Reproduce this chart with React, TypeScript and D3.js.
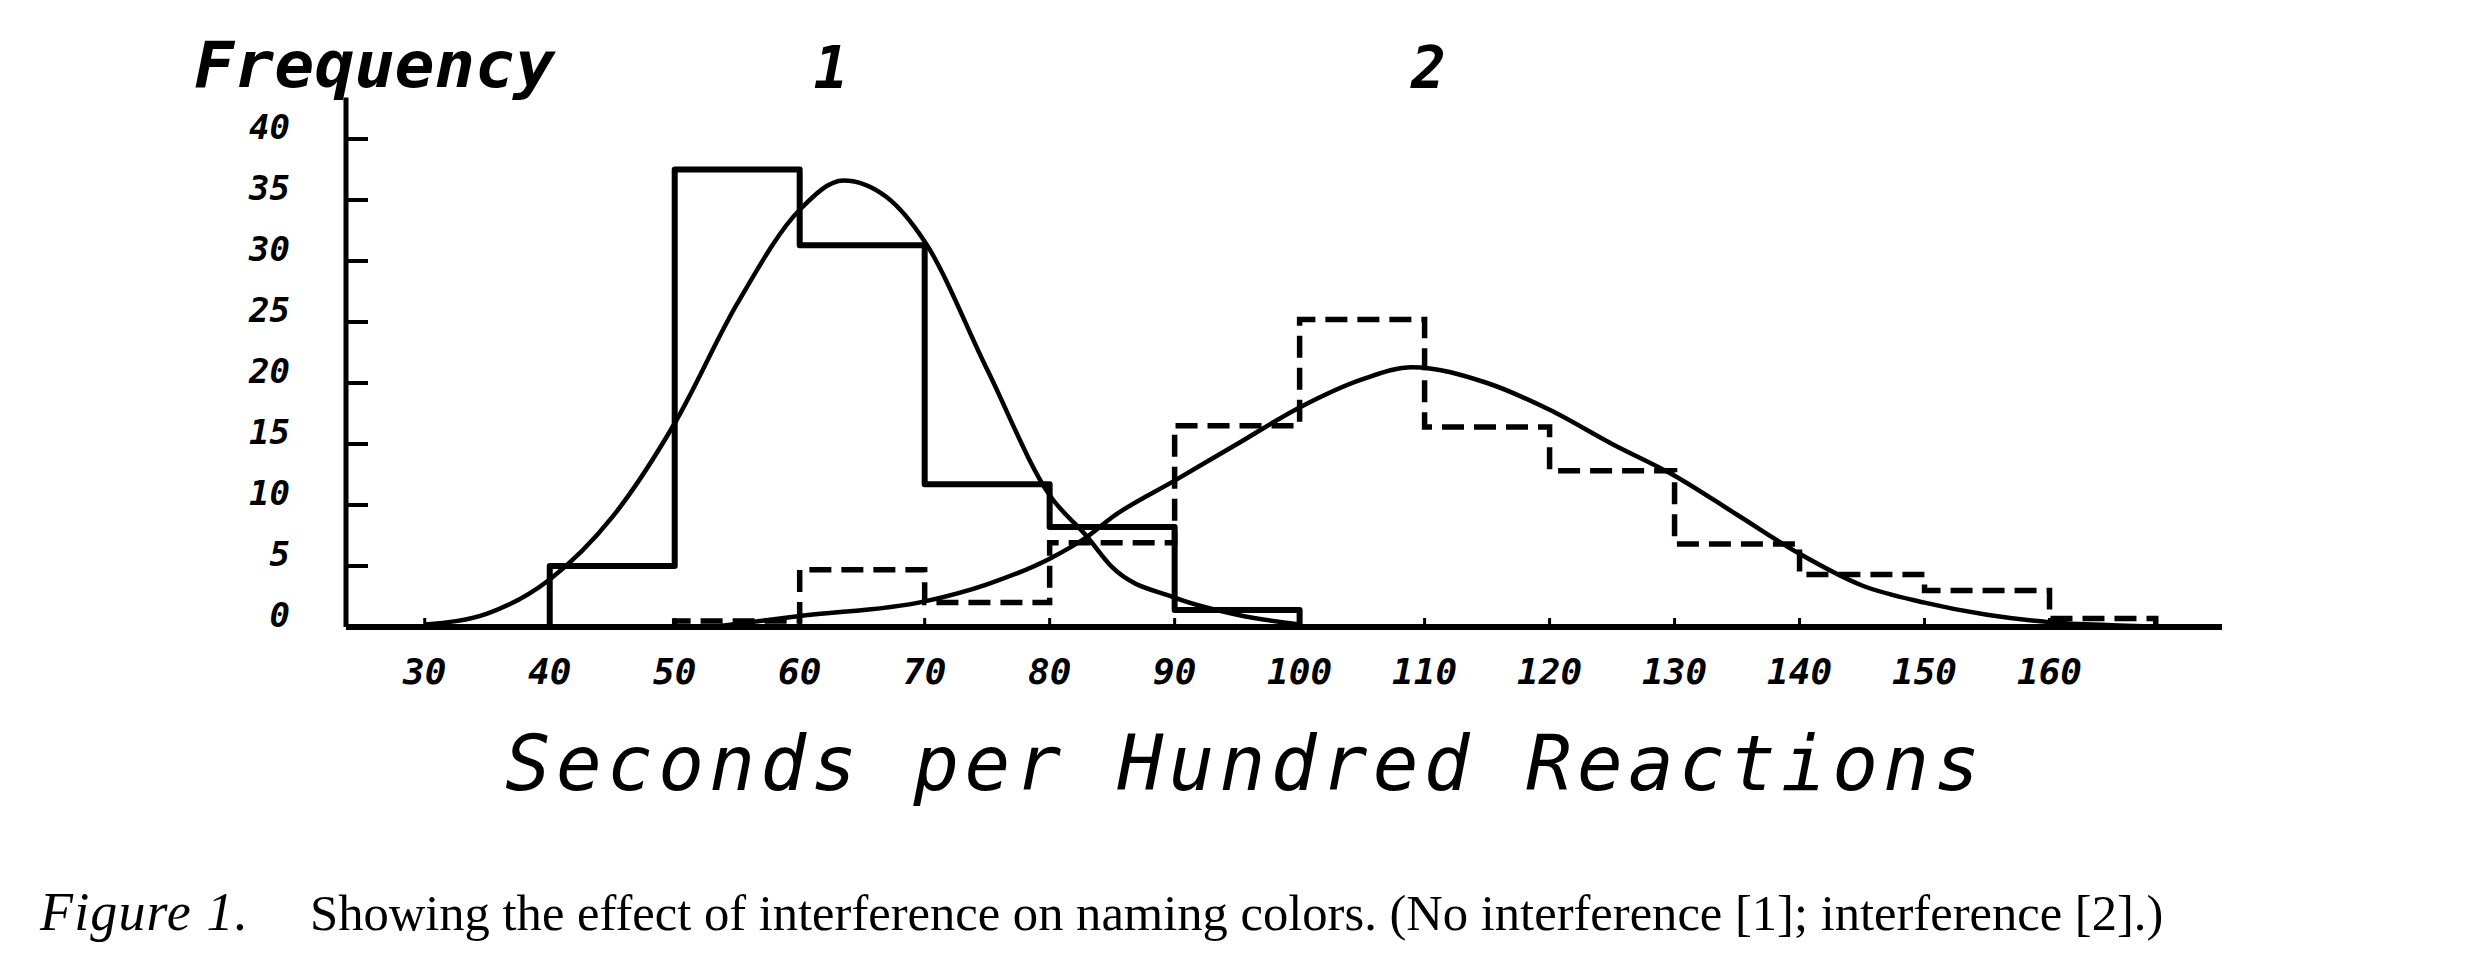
import React, { useMemo } from "react";
import * as d3 from "d3";

const WIDTH = 2488;
const HEIGHT = 964;

// axis ticks
const xTicks = [30, 40, 50, 60, 70, 80, 90, 100, 110, 120, 130, 140, 150, 160];
const yTicks = [0, 5, 10, 15, 20, 25, 30, 35, 40];

// [1] no interference -- solid histogram
const binEdges1 = [40, 50, 60, 70, 80, 90, 100];
const freq1 = [5, 37.5, 31.3, 11.7, 8.2, 1.4];

// [2] interference -- dashed histogram
const binEdges2 = [50, 60, 70, 80, 90, 100, 110, 120, 130, 140, 150, 160, 168.5];
const freq2 = [0.5, 4.7, 2.0, 6.9, 16.5, 25.2, 16.4, 12.8, 6.8, 4.3, 3.0, 0.7];

// fitted curves
const curve1X = [30, 35, 40, 45, 50, 55, 60, 63.5, 67, 70, 75, 80, 83, 85, 90, 95, 100];
const curve1Y = [0.2, 1.1, 3.9, 9, 16.7, 26.5, 34.2, 36.6, 35.2, 31.6, 21.1, 10.8, 7.4, 4.9, 2.4, 1.0, 0.2];

const curve2X = [53, 60, 70, 75, 80, 83, 85, 90, 95, 100, 105, 109, 115, 120, 125, 130, 135, 140, 145, 150, 155, 160, 165, 171];
const curve2Y = [0, 0.9, 2.1, 3.5, 5.6, 7.4, 9.0, 12.0, 15.0, 18.0, 20.3, 21.3, 20.0, 17.8, 15.0, 12.4, 9.2, 6.0, 3.4, 2.0, 1.0, 0.4, 0.15, 0];

const seriesLabels = ["1", "2"];
const seriesLabelX = [62.5, 110.3];

const X_DOMAIN: [number, number] = [23.7, 173.8];
const Y_TOP = 43.4;

const HAND = "'DejaVu Sans Mono', monospace";
const SERIF = "'Liberation Serif', 'Times New Roman', serif";

const stepPoints = (edges: number[], freq: number[]) => {
  const pts: [number, number][] = [[edges[0], 0]];
  freq.forEach((f, i) => {
    pts.push([edges[i], f], [edges[i + 1], f]);
  });
  pts.push([edges[edges.length - 1], 0]);
  return pts;
};

export default function App() {
  const xScale = useMemo(
    () => d3.scaleLinear().domain(X_DOMAIN).range([346, 2222]),
    []
  );
  const yScale = useMemo(
    () => d3.scaleLinear().domain([0, 40]).range([627, 139]),
    []
  );

  const stepLine = d3
    .line<[number, number]>()
    .x((d) => xScale(d[0]))
    .y((d) => yScale(d[1]));

  const smoothLine = d3
    .line<[number, number]>()
    .x((d) => xScale(d[0]))
    .y((d) => yScale(d[1]))
    .curve(d3.curveMonotoneX);

  const hist1 = stepLine(stepPoints(binEdges1, freq1)) || "";
  const hist2 = stepLine(stepPoints(binEdges2, freq2)) || "";
  const fit1 = smoothLine(curve1X.map((x, i) => [x, curve1Y[i]])) || "";
  const fit2 = smoothLine(curve2X.map((x, i) => [x, curve2Y[i]])) || "";

  const x0 = xScale(X_DOMAIN[0]);
  const y0 = yScale(0);

  return (
    <svg
      width={WIDTH}
      height={HEIGHT}
      style={{ position: "absolute", left: 0, top: 0, background: "white" }}
    >
      {/* axes */}
      <line x1={x0} x2={x0} y1={yScale(Y_TOP)} y2={y0} stroke="black" strokeWidth={5} />
      <line x1={x0} x2={xScale(X_DOMAIN[1])} y1={y0} y2={y0} stroke="black" strokeWidth={6} />

      {yTicks.filter((t) => t > 0).map((t) => (
        <line key={t} x1={x0} x2={x0 + 22} y1={yScale(t)} y2={yScale(t)} stroke="black" strokeWidth={4} />
      ))}
      {xTicks.map((t) => (
        <line key={t} x1={xScale(t)} x2={xScale(t)} y1={y0} y2={y0 - 9} stroke="black" strokeWidth={3} />
      ))}

      {yTicks.map((t) => (
        <text
          key={t}
          x={290}
          y={yScale(t) - 10}
          textAnchor="end"
          dominantBaseline="middle"
          fontFamily={HAND}
          fontStyle="italic"
          fontWeight="bold"
          fontSize={34}
        >
          {t}
        </text>
      ))}
      {xTicks.map((t) => (
        <text
          key={t}
          x={xScale(t)}
          y={674}
          textAnchor="middle"
          dominantBaseline="middle"
          fontFamily={HAND}
          fontStyle="italic"
          fontWeight="bold"
          fontSize={36}
        >
          {t}
        </text>
      ))}

      {/* histograms */}
      <path d={hist1} fill="none" stroke="black" strokeWidth={6} strokeLinejoin="round" />
      <path d={hist2} fill="none" stroke="black" strokeWidth={5.5} strokeDasharray="22 10" />

      {/* fitted curves */}
      <path d={fit1} fill="none" stroke="black" strokeWidth={4.5} />
      <path d={fit2} fill="none" stroke="black" strokeWidth={4.5} />

      {/* titles */}
      <text x={194} y={87} fontFamily={HAND} fontStyle="italic" fontWeight="bold" fontSize={64} textLength={361} lengthAdjust="spacingAndGlyphs">
        Frequency
      </text>
      {seriesLabels.map((s, i) => (
        <text
          key={s}
          x={xScale(seriesLabelX[i])}
          y={88}
          textAnchor="middle"
          fontFamily={HAND}
          fontStyle="italic"
          fontWeight="bold"
          fontSize={58}
        >
          {s}
        </text>
      ))}
      <text
        x={505}
        y={790}
        fontFamily={HAND}
        fontStyle="italic"
        fontSize={76}
        textLength={1475}
        lengthAdjust="spacing"
      >
        Seconds per Hundred Reactions
      </text>

      {/* caption */}
      <text y={930} fontFamily={SERIF} fontSize={50.6}>
        <tspan x={40} fontStyle="italic" fontSize={54} textLength={208} lengthAdjust="spacing">
          Figure 1.
        </tspan>
        <tspan x={310}>
          Showing the effect of interference on naming colors. (No interference [1]; interference [2].)
        </tspan>
      </text>
    </svg>
  );
}
